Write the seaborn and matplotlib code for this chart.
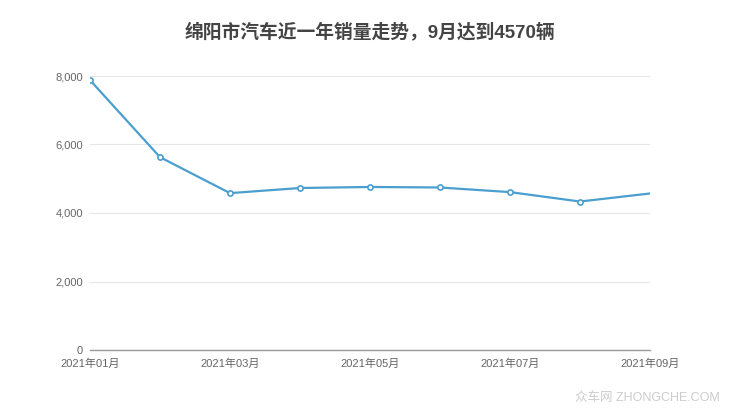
import matplotlib
matplotlib.use("Agg")
import matplotlib.pyplot as plt
import seaborn as sns
import pandas as pd

months = ["2021年01月", "2021年02月", "2021年03月", "2021年04月", "2021年05月",
          "2021年06月", "2021年07月", "2021年08月", "2021年09月"]
sales = [7880, 5630, 4580, 4730, 4760, 4745, 4610, 4335, 4570]
yticks = [0, 2000, 4000, 6000, 8000]
title = "绵阳市汽车近一年销量走势，9月达到4570辆"

sns.set_theme(style="white")
plt.rcParams['font.family'] = ['Liberation Sans', 'Noto Sans CJK SC', 'DejaVu Sans']

df = pd.DataFrame({"idx": range(len(months)), "month": months, "sales": sales})

fig = plt.figure(figsize=(7.4, 4.16), dpi=100)
ax = fig.add_axes([90/740, 1-350/416, 560/740, 274/416])

line_color = "#4a9fcf"
sns.lineplot(data=df, x="idx", y="sales", ax=ax, color=line_color, linewidth=1.6)
mk = df.iloc[:-1]
ax.scatter(mk["idx"], mk["sales"], s=14, facecolor="white", edgecolor=line_color,
           linewidth=1.2, zorder=5)

ax.set_xlim(0, len(months) - 1)
ax.set_ylim(0, 8000)
ax.set_yticks(yticks)
ax.set_yticklabels([f"{v:,}" for v in yticks], fontsize=8, color="#666666")
ax.yaxis.grid(True, color="#e6e6e6", linewidth=0.8)
ax.set_axisbelow(True)
tick_pos = list(range(0, len(months), 2))
ax.set_xticks(tick_pos)
ax.set_xticklabels([months[i] for i in tick_pos], fontsize=8, color="#666666")
ax.tick_params(axis="x", length=4, width=0.8, color="#999999", pad=2, direction="out")
ax.tick_params(axis="y", length=0, pad=5)
for s in ["top", "right", "left"]:
    ax.spines[s].set_visible(False)
ax.spines["bottom"].set_color("#999999")
ax.spines["bottom"].set_linewidth(1)
ax.set_xlabel("")
ax.set_ylabel("")

fig.text(0.5, 1-32/416, title, ha="center", va="center", fontsize=13.5,
         fontweight="bold", color="#444444")
fig.text(720/740, 1-398/416, "众车网 ZHONGCHE.COM", ha="right", va="center",
         fontsize=9, color="#cccccc")

fig.savefig("out.png", dpi=100)
